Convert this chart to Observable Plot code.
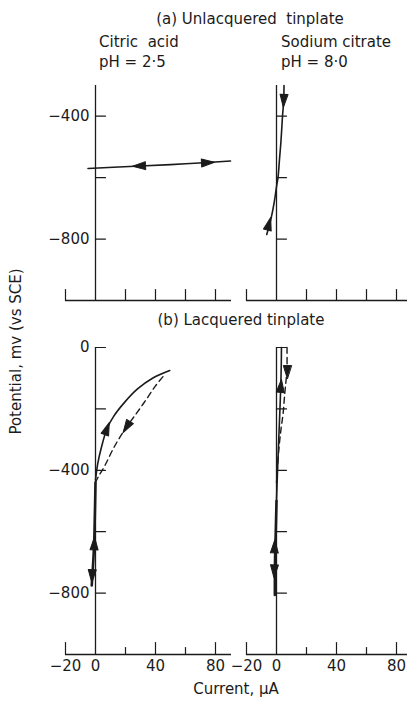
<!DOCTYPE html>
<html><head><meta charset="utf-8">
<script src="https://cdn.jsdelivr.net/npm/d3@7"></script>
<script src="https://cdn.jsdelivr.net/npm/@observablehq/plot@0.6"></script>
<style>
body{margin:0;background:#fff;}
#fig{position:relative;width:407px;height:701px;overflow:hidden;font-family:"DejaVu Sans",sans-serif;color:#1b1b1b;background:#fff;}
.t{position:absolute;font-size:15px;white-space:nowrap;line-height:15px;}
#fig svg{position:absolute;overflow:visible;}
</style></head><body>
<div id="fig">
  <div class="t" style="left:150px;top:12px;width:200px;text-align:center;">(a) Unlacquered&nbsp; tinplate</div>
  <div class="t" style="left:99px;top:35px;">Citric&nbsp; acid</div>
  <div class="t" style="left:99px;top:55px;">pH = 2·5</div>
  <div class="t" style="left:281px;top:35px;">Sodium citrate</div>
  <div class="t" style="left:281px;top:55px;">pH = 8·0</div>
  <div class="t" style="left:141px;top:313px;width:200px;text-align:center;">(b) Lacquered tinplate</div>
  <div class="t" style="left:136px;top:682px;width:200px;text-align:center;">Current, μA</div>
  <div class="t" style="left:-134px;top:344px;width:300px;text-align:center;transform:rotate(-90deg);transform-origin:50% 50%;">Potential, mv (vs SCE)</div>
</div>
<script>
// ---------- data (current in µA, potential in mV vs SCE) ----------
// (a) Unlacquered tinplate — citric acid, pH 2.5
const aCitricCurrent   = [-5, 30, 60, 90];
const aCitricPotential = [-570, -562, -555, -546];
const aCitricArrowCurrent   = [29, 75];
const aCitricArrowPotential = [-562, -551];
const aCitricArrowAngle     = [267, 87];

// (a) Unlacquered tinplate — sodium citrate, pH 8.0
const aSodiumCurrent   = [5, 4.8, 4, 3, 2, 1, 0, -1.5, -3.5, -6.5];
const aSodiumPotential = [-300, -350, -400, -480, -540, -600, -630, -680, -730, -785];
const aSodiumArrowCurrent   = [4.8, -5];
const aSodiumArrowPotential = [-350, -750];
const aSodiumArrowAngle     = [183, 15];

// (b) Lacquered tinplate — citric acid
const bCitricFwdCurrent   = [0, 1.5, 4, 7.7, 12, 19.5, 28, 38, 49.5];
const bCitricFwdPotential = [-432, -378, -324, -264, -225, -178, -135, -100, -75];
const bCitricRevCurrent   = [45, 40, 34, 28, 20.7, 12.9, 6.2, 1.8, 0];
const bCitricRevPotential = [-95, -125, -168, -210, -259, -320, -385, -422, -440];
const bCitricVertCurrent   = [0, -0.5, -1, -2.5];
const bCitricVertPotential = [-440, -560, -650, -775];
const bCitricArrowCurrent   = [7.7, 20.7, -0.8, -2.3];
const bCitricArrowPotential = [-264, -259, -638, -745];
const bCitricArrowAngle     = [20, 212, 2, 182];

// (b) Lacquered tinplate — sodium citrate
const bSodiumFwdCurrent   = [0, 0.7, 1.5, 2.3, 2.9, 3.2, 3.3];
const bSodiumFwdPotential = [-500, -400, -300, -200, -120, -50, 0];
const bSodiumRevCurrent   = [7, 7, 6.5, 5.5, 4.4, 2.9, 1.5, 0.5, 0];
const bSodiumRevPotential = [0, -60, -100, -150, -215, -270, -335, -400, -440];
const bSodiumVertCurrent   = [-1.1, -1, -0.5, 0];
const bSodiumVertPotential = [-806, -700, -600, -500];
const bSodiumArrowCurrent   = [7.2, 2.9, -1.3, -1.5];
const bSodiumArrowPotential = [-80, -125, -648, -729];
const bSodiumArrowAngle     = [180, 5, 2, 182];

// axes
const topYTicks = [-400, -600, -800];
const topYLabels = [-400, -800];
const botYTicks = [0, -200, -400, -600, -800];
const botYLabels = [0, -400, -800];
const xTicksMajor = [-20, 40, 80];
const xTicksMinor = [20, 60];
const xLabels = [-20, 0, 40, 80];

// ---------- drawing ----------
const ink = "#1b1b1b";
const font = "DejaVu Sans, sans-serif";
const fmt = d3.format("d");
const tickShape = {draw(ctx, l) { ctx.moveTo(0, 0); ctx.lineTo(0, -l); }};
const headShape = {draw(ctx, l, r) { ctx.moveTo(0, -l); ctx.lineTo(r, 0); ctx.lineTo(-r, 0); ctx.closePath(); }};
const rows = (xs, ys, as) => xs.map((x, i) => ({I: x, E: ys[i], A: as ? as[i] : 0}));

const solid = (xs, ys, w = 1.6) => Plot.line(rows(xs, ys), {x: "I", y: "E", curve: "monotone-y", stroke: ink, strokeWidth: w});
const solidX = (xs, ys, w = 1.6) => Plot.line(rows(xs, ys), {x: "I", y: "E", curve: "catmull-rom", stroke: ink, strokeWidth: w});
const dashed = (xs, ys) => Plot.line(rows(xs, ys), {x: "I", y: "E", curve: "catmull-rom", stroke: ink, strokeWidth: 1.4, strokeDasharray: "6,4"});
const heads = (xs, ys, as) => Plot.vector(rows(xs, ys, as), {x: "I", y: "E", rotate: "A", length: 13, r: 4, anchor: "middle", shape: headShape, fill: ink, stroke: ink, strokeWidth: 1});

function panel({left, top, width, height, mL, mR, mT, mB, xDomain, yDomain, yTicks, yLabels, xMajor, xMinor, majorLen, minorLen, xLab, marks}) {
  const svg = Plot.plot({
    width, height, marginLeft: mL, marginRight: mR, marginTop: mT, marginBottom: mB,
    x: {domain: xDomain, axis: null},
    y: {domain: yDomain, axis: null},
    style: {fontFamily: font, color: ink, overflow: "visible", background: "transparent"},
    marks: [
      Plot.ruleX([0], {stroke: ink, strokeWidth: 1.3}),
      Plot.ruleY([-1000], {stroke: ink, strokeWidth: 1.3}),
      Plot.vector(yTicks, {x: 0, y: d => d, length: 10, rotate: 90, anchor: "start", shape: tickShape, stroke: ink, strokeWidth: 1.2}),
      Plot.vector(xMajor, {x: d => d, y: -1000, length: majorLen, rotate: 0, anchor: "start", shape: tickShape, stroke: ink, strokeWidth: 1.2}),
      Plot.vector(xMinor, {x: d => d, y: -1000, length: minorLen, rotate: 0, anchor: "start", shape: tickShape, stroke: ink, strokeWidth: 1.2}),
      Plot.text(yLabels, {x: 0, y: d => d, text: d => fmt(d), textAnchor: "end", dx: -6, fill: ink, fontSize: 15, fontFamily: font}),
      Plot.text(xLab, {x: d => d, y: -1000, text: d => fmt(d), lineAnchor: "top", dy: 6, fill: ink, fontSize: 15, fontFamily: font}),
      ...marks
    ]
  });
  svg.style.left = left + "px";
  svg.style.top = top + "px";
  document.getElementById("fig").appendChild(svg);
}

// top row
panel({left: 0, top: 80, width: 235, height: 225, mL: 65, mR: 4, mT: 5, mB: 5,
  xDomain: [-20, 90.67], yDomain: [-1000, -300], yTicks: topYTicks, yLabels: topYLabels,
  xMajor: xTicksMajor, xMinor: xTicksMinor, majorLen: 11, minorLen: 11, xLab: [],
  marks: [solidX(aCitricCurrent, aCitricPotential), heads(aCitricArrowCurrent, aCitricArrowPotential, aCitricArrowAngle)]});
panel({left: 226, top: 80, width: 181, height: 225, mL: 20, mR: 0, mT: 5, mB: 5,
  xDomain: [-20, 87.33], yDomain: [-1000, -300], yTicks: topYTicks, yLabels: [],
  xMajor: xTicksMajor, xMinor: xTicksMinor, majorLen: 11, minorLen: 11, xLab: [],
  marks: [solidX(aSodiumCurrent, aSodiumPotential), heads(aSodiumArrowCurrent, aSodiumArrowPotential, aSodiumArrowAngle)]});

// bottom row
panel({left: 0, top: 340, width: 235, height: 345, mL: 65, mR: 4, mT: 7, mB: 31,
  xDomain: [-20, 90.67], yDomain: [-1000, 0], yTicks: botYTicks, yLabels: botYLabels,
  xMajor: xTicksMajor, xMinor: xTicksMinor, majorLen: 12, minorLen: 7, xLab: xLabels,
  marks: [solidX(bCitricFwdCurrent, bCitricFwdPotential), dashed(bCitricRevCurrent, bCitricRevPotential),
          solidX(bCitricVertCurrent, bCitricVertPotential, 2.6),
          heads(bCitricArrowCurrent, bCitricArrowPotential, bCitricArrowAngle)]});
panel({left: 226, top: 340, width: 181, height: 345, mL: 20, mR: 0, mT: 7, mB: 31,
  xDomain: [-20, 87.33], yDomain: [-1000, 0], yTicks: botYTicks, yLabels: [],
  xMajor: xTicksMajor, xMinor: xTicksMinor, majorLen: 12, minorLen: 7, xLab: xLabels,
  marks: [solidX(bSodiumFwdCurrent, bSodiumFwdPotential), dashed(bSodiumRevCurrent, bSodiumRevPotential),
          solidX(bSodiumVertCurrent, bSodiumVertPotential, 2.6),
          heads(bSodiumArrowCurrent, bSodiumArrowPotential, bSodiumArrowAngle)]});
</script>
</body></html>
